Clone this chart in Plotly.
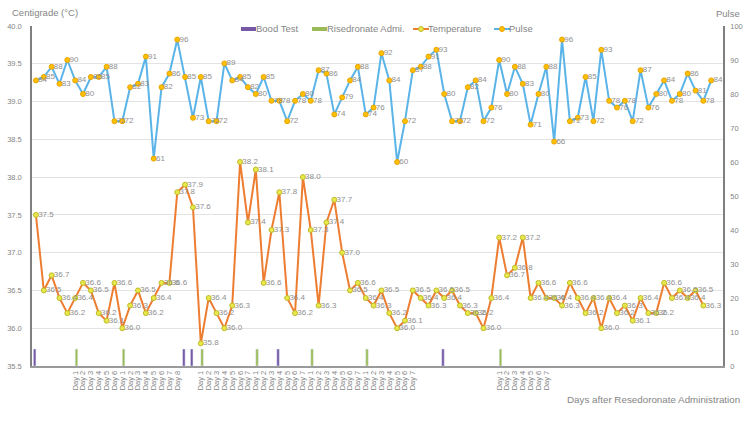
import plotly.graph_objects as go

# ---------------- data ----------------
n_cat = 88
x_labels = [""] * n_cat
for start, count in [(5, 6), (11, 8), (21, 7), (28, 7), (35, 7), (42, 7), (59, 7)]:
    for k in range(count):
        x_labels[start + k] = f"Day {k + 1}"

temperature = [
    37.5, 36.5, 36.7, 36.4, 36.2, 36.4, 36.6, 36.5, 36.2, 36.1,
    36.6, 36.0, 36.3, 36.5, 36.2, 36.4, 36.6, 36.6, 37.8, 37.9,
    37.6, 35.8, 36.4, 36.2, 36.0, 36.3, 38.2, 37.4, 38.1, 36.6,
    37.3, 37.8, 36.4, 36.2, 38.0, 37.3, 36.3, 37.4, 37.7, 37.0,
    36.5, 36.6, 36.4, 36.3, 36.5, 36.2, 36.0, 36.1, 36.5, 36.4,
    36.3, 36.5, 36.4, 36.5, 36.3, 36.2, 36.2, 36.0, 36.4, 37.2,
    36.7, 36.8, 37.2, 36.4, 36.6, 36.4, 36.4, 36.3, 36.6, 36.4,
    36.2, 36.4, 36.0, 36.4, 36.2, 36.3, 36.1, 36.4, 36.2, 36.2,
    36.6, 36.4, 36.5, 36.4, 36.5, 36.3,
]

pulse = [
    84, 85, 88, 83, 90, 84, 80, 85, 85, 88,
    72, 72, 82, 83, 91, 61, 82, 86, 96, 85,
    73, 85, 72, 72, 89, 84, 85, 82, 80, 85,
    78, 78, 72, 78, 80, 78, 87, 86, 74, 79,
    84, 88, 74, 76, 92, 84, 60, 72, 87, 88,
    91, 93, 80, 72, 72, 82, 84, 72, 76, 90,
    80, 88, 83, 71, 80, 88, 66, 96, 72, 73,
    85, 72, 93, 78, 76, 78, 72, 87, 76, 80,
    84, 78, 80, 86, 81, 78, 84,
]

blood_test_days = [0, 19, 20, 31, 52]
risedronate_days = [5, 11, 21, 28, 35, 42, 59]
marker_height = 5

series_names = ["Bood Test", "Risedronate Admi.", "Temperature", "Pulse"]

# ---------------- styling ----------------
W, H = 750, 422
L, R, T, B = 32, 27, 26, 56
PW, PH = W - L - R, H - T - B
GRAY = "#858585"
LABEL_GRAY = "#8f8f8f"
FONT = "Liberation Sans"
C_BT, C_RS = "#7558A6", "#9BBB59"
C_T, C_P = "#ED7D31", "#5AB4E8"
MK_T = dict(color="#E9E84A", line=dict(color="#BDBB2A", width=1))
MK_P = dict(color="#FFC000", line=dict(color="#E8A400", width=1))
PAD = "\u00a0"


def px_x(v):
    return (v - L) / PW


def px_y(v):
    return (H - B - v) / PH


# ---------------- figure ----------------
xs = list(range(n_cat))
bt = [marker_height if i in blood_test_days else None for i in xs]
rs = [marker_height if i in risedronate_days else None for i in xs]

fig = go.Figure()
fig.add_trace(go.Bar(x=xs, y=bt, name=series_names[0], marker_color=C_BT,
                     yaxis="y2", offsetgroup="a", showlegend=False))
fig.add_trace(go.Bar(x=xs, y=rs, name=series_names[1], marker_color=C_RS,
                     yaxis="y2", offsetgroup="b", showlegend=False))

tx = xs[:len(temperature)]
fig.add_trace(go.Scatter(x=tx, y=temperature, name=series_names[2], mode="lines+markers",
                         line=dict(color=C_T, width=2), marker=dict(size=5, **MK_T),
                         showlegend=False))
fig.add_trace(go.Scatter(x=tx, y=temperature, mode="text", showlegend=False,
                         text=[f"{PAD}{v:.1f}" for v in temperature], textposition="middle right",
                         textfont=dict(size=8, color=LABEL_GRAY, family=FONT), hoverinfo="skip"))

pxs = xs[:len(pulse)]
fig.add_trace(go.Scatter(x=pxs, y=pulse, name=series_names[3], mode="lines+markers", yaxis="y2",
                         line=dict(color=C_P, width=2), marker=dict(size=5, **MK_P),
                         showlegend=False))
fig.add_trace(go.Scatter(x=pxs, y=pulse, mode="text", showlegend=False, yaxis="y2",
                         text=[f"{PAD}{v}" for v in pulse], textposition="middle right",
                         textfont=dict(size=8, color=LABEL_GRAY, family=FONT), hoverinfo="skip"))

# ---------------- custom legend (compact, Excel-like) ----------------
shapes = []
annotations = []
ly = 29
leg_items = [
    (series_names[0], "bar", C_BT, 241),
    (series_names[1], "bar", C_RS, 312),
    (series_names[2], "line", C_T, 413),
    (series_names[3], "line", C_P, 494),
]
for name, kind, color, x0 in leg_items:
    if kind == "bar":
        shapes.append(dict(type="rect", xref="paper", yref="paper",
                           x0=px_x(x0), x1=px_x(x0 + 15), y0=px_y(ly + 2), y1=px_y(ly - 2),
                           fillcolor=color, line=dict(width=0), layer="above"))
    else:
        shapes.append(dict(type="line", xref="paper", yref="paper",
                           x0=px_x(x0), x1=px_x(x0 + 16), y0=px_y(ly), y1=px_y(ly),
                           line=dict(color=color, width=2), layer="above"))
        mk = MK_T if name == "Temperature" else MK_P
        shapes.append(dict(type="circle", xref="paper", yref="paper",
                           x0=px_x(x0 + 5.5), x1=px_x(x0 + 10.5),
                           y0=px_y(ly + 2.5), y1=px_y(ly - 2.5),
                           fillcolor=mk["color"], line=dict(color=mk["line"]["color"], width=1),
                           layer="above"))
    annotations.append(dict(text=name, xref="paper", yref="paper", x=px_x(x0 + 15),
                            y=px_y(ly), xanchor="left", yanchor="middle", showarrow=False,
                            borderpad=0, borderwidth=0,
                            font=dict(size=9.5, color=GRAY, family=FONT)))

annotations += [
    dict(text="Centigrade (°C)", xref="paper", yref="paper", x=px_x(12), y=px_y(13),
         xanchor="left", yanchor="middle", showarrow=False, borderpad=0, borderwidth=0,
         font=dict(size=9.5, color=GRAY, family=FONT)),
    dict(text="Pulse", xref="paper", yref="paper", x=px_x(716), y=px_y(13.5),
         xanchor="left", yanchor="middle", showarrow=False, borderpad=0, borderwidth=0,
         font=dict(size=9.5, color=GRAY, family=FONT)),
    dict(text="Days after Resedoronate Administration", xref="paper", yref="paper",
         x=px_x(567), y=px_y(399), xanchor="left", yanchor="middle", showarrow=False,
         borderpad=0, borderwidth=0, font=dict(size=9.8, color=GRAY, family=FONT)),
]

fig.update_layout(
    width=W, height=H,
    margin=dict(l=L, r=R, t=T, b=B, pad=0),
    paper_bgcolor="white", plot_bgcolor="white",
    font=dict(family=FONT, color=GRAY, size=8),
    barmode="group", bargap=0.35, bargroupgap=0,
    showlegend=False,
    xaxis=dict(range=[-0.5, n_cat - 0.5], tickmode="array", tickvals=xs, ticktext=x_labels,
               tickangle=-90, tickfont=dict(size=7.5, color=GRAY), showgrid=False,
               automargin=False,
               showline=True, linecolor="#9a9a9a", linewidth=1.5, ticks="", zeroline=False),
    yaxis=dict(range=[35.5, 40.0], tickmode="linear", tick0=35.5, dtick=0.5,
               tickformat=".1f", tickfont=dict(size=7.5, color=GRAY), ticklabelstandoff=7,
               showgrid=True, gridcolor="#e3e3e3", gridwidth=1, automargin=False,
               showline=True, linecolor="#7f7f7f", linewidth=1.5, zeroline=False, ticks=""),
    yaxis2=dict(range=[0, 100], tickmode="linear", tick0=0, dtick=10, overlaying="y",
                side="right", tickfont=dict(size=7.5, color=GRAY), ticklabelstandoff=4,
                showgrid=False, showline=True, linecolor="#7f7f7f", linewidth=1.5,
                automargin=False, zeroline=False, ticks=""),
    shapes=shapes,
    annotations=annotations,
)

fig.write_html("out.html")
